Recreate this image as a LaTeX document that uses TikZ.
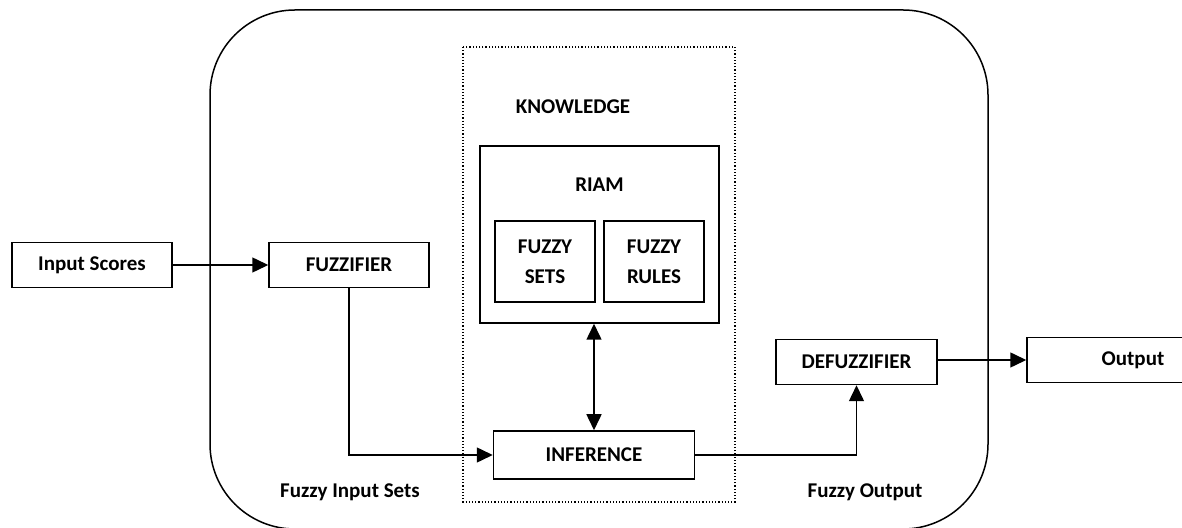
\documentclass[tikz,border=0pt]{standalone}
\usepackage{fontspec}
\setmainfont{Carlito}
\usepackage{tikz}
\usetikzlibrary{arrows.meta}

\tikzset{
  block/.style={draw,line width=0.75pt,minimum height=22.5pt,inner sep=0pt,align=center},
  arr/.style={line width=0.75pt,-{Triangle[length=8pt,width=7.5pt]}},
  lbl/.style={inner sep=0pt}
}

\begin{document}
\begin{tikzpicture}[x=0.5pt,y=-0.5pt,font=\fontsize{10.5}{15}\selectfont\bfseries]
\useasboundingbox (0,0) rectangle (1182,528);
\draw[line width=0.75pt,rounded corners=42.5pt] (210,10) rectangle (988,529);
\draw[densely dotted,line width=0.6pt] (463,47) rectangle (735,502);
\node[lbl] (know) at (573,107) {KNOWLEDGE};
\node[block,minimum width=119.5pt,minimum height=88.5pt] (riam) at (599.5,234.5) {};
\node[lbl] (riamtxt) at (599.5,185) {RIAM};
\node[block,minimum width=50pt,minimum height=40.5pt] (sets) at (545,261.5) {FUZZY\\SETS};
\node[block,minimum width=50pt,minimum height=40.5pt] (rules) at (654,261.5) {FUZZY\\RULES};
\node[block,minimum width=80pt] (in) at (92,265) {Input Scores};
\node[block,minimum width=80pt] (fuzz) at (349,265) {FUZZIFIER};
\node[block,minimum width=100.5pt,minimum height=24pt] (inf) at (594,455) {INFERENCE};
\node[block,minimum width=80.5pt] (defuzz) at (856.5,362) {DEFUZZIFIER};
\node[block,minimum width=106pt] (out) at (1133,360) {Output};
\node[lbl] (fin) at (350,492) {Fuzzy Input Sets};
\node[lbl] (fout) at (865,492) {Fuzzy Output};
\draw[arr] (in) -- (fuzz);
\draw[arr] (fuzz.south) |- (inf.west);
\draw[arr,{Triangle[length=8pt,width=7.5pt]}-{Triangle[length=8pt,width=7.5pt]}] (inf.north |- riam.south) -- (inf.north);
\draw[arr] (inf.east) -| (defuzz.south);
\draw[arr] (defuzz.east |- out.west) -- (out.west);
\end{tikzpicture}
\end{document}
